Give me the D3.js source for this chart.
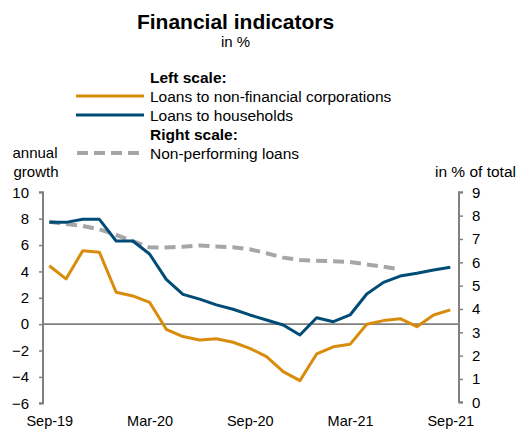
<!DOCTYPE html>
<html><head><meta charset="utf-8">
<script src="https://cdn.jsdelivr.net/npm/d3@7"></script>
<style>body{margin:0;background:#fff}svg{display:block;font-family:"Liberation Sans",Arial,sans-serif}</style>
</head><body><svg id="c" width="518" height="432"></svg>
<script>
const months = ["Sep-19","Oct-19","Nov-19","Dec-19","Jan-20","Feb-20","Mar-20","Apr-20","May-20","Jun-20","Jul-20","Aug-20","Sep-20","Oct-20","Nov-20","Dec-20","Jan-21","Feb-21","Mar-21","Apr-21","May-21","Jun-21","Jul-21","Aug-21","Sep-21"];
const corporations = [4.43,3.43,5.57,5.45,2.42,2.14,1.66,-0.39,-0.94,-1.2,-1.1,-1.37,-1.83,-2.46,-3.6,-4.28,-2.26,-1.72,-1.53,-0.01,0.27,0.42,-0.19,0.7,1.08];
const households = [7.72,7.72,7.95,7.95,6.31,6.31,5.32,3.4,2.26,1.9,1.46,1.13,0.7,0.32,-0.06,-0.82,0.49,0.19,0.7,2.29,3.17,3.65,3.86,4.11,4.31];
const npl = [7.74,7.64,7.56,7.41,7.17,6.91,6.64,6.63,6.67,6.72,6.68,6.64,6.56,6.39,6.2,6.1,6.07,6.05,6.01,5.91,5.81,5.7];
const xTickLabels = ["Sep-19","Mar-20","Sep-20","Mar-21","Sep-21"];
const leftTicks = [-6,-4,-2,0,2,4,6,8,10];
const rightTicks = [0,1,2,3,4,5,6,7,8,9];

const svg = d3.select("#c");
const x = d3.scalePoint().domain(months).range([49.3, 450.3]);
const yL = d3.scaleLinear().domain([-6,10]).range([403.3,192.3]);
const yR = d3.scaleLinear().domain([0,9]).range([402.3,192.3]);
const axisColor = "#808080";
const FF = "Liberation Sans, Arial, sans-serif";

// title
svg.append("text").attr("x",235.5).attr("y",28.5).attr("text-anchor","middle")
  .attr("font-size",21).attr("font-weight","bold").text("Financial indicators");
svg.append("text").attr("x",235.5).attr("y",47).attr("text-anchor","middle")
  .attr("font-size",15).text("in %");

// legend
const lg = svg.append("g").attr("font-size",15.5);
lg.append("text").attr("x",150).attr("y",83).attr("font-weight","bold").text("Left scale:");
lg.append("line").attr("x1",76).attr("x2",144).attr("y1",96).attr("y2",96).attr("stroke","#D98C0B").attr("stroke-width",3);
lg.append("text").attr("x",150).attr("y",101.5).text("Loans to non-financial corporations");
lg.append("line").attr("x1",76).attr("x2",144).attr("y1",115).attr("y2",115).attr("stroke","#004C76").attr("stroke-width",3);
lg.append("text").attr("x",150).attr("y",120.5).text("Loans to households");
lg.append("text").attr("x",150).attr("y",139.5).attr("font-weight","bold").text("Right scale:");
lg.append("line").attr("x1",77).attr("x2",144).attr("y1",153).attr("y2",153).attr("stroke","#A6A6A6").attr("stroke-width",4).attr("stroke-dasharray","11,6");
lg.append("text").attr("x",150).attr("y",158.5).text("Non-performing loans");

// axis titles
svg.append("text").attr("x",12.5).attr("y",158).attr("font-size",15).text("annual");
svg.append("text").attr("x",13.5).attr("y",176.5).attr("font-size",15).text("growth");
svg.append("text").attr("x",516).attr("y",176.5).attr("font-size",15.5).attr("text-anchor","end").text("in % of total");

// left axis
const la = svg.append("g").attr("transform","translate(43,0)")
  .call(d3.axisLeft(yL).tickValues(leftTicks).tickSize(4).tickPadding(10).tickFormat(d3.format("d")));
la.select(".domain").attr("stroke",axisColor).attr("stroke-width",2).attr("d","M-4,192.3H0V403.3H-4");
la.selectAll(".tick line").attr("stroke",axisColor).attr("stroke-width",1.5);
la.selectAll(".tick text").attr("font-size",15).attr("fill","#000").attr("font-family",FF);

// right axis
const ra = svg.append("g").attr("transform","translate(459,0)")
  .call(d3.axisRight(yR).tickValues(rightTicks).tickSize(4).tickPadding(9).tickFormat(d3.format("d")));
ra.select(".domain").attr("stroke",axisColor).attr("stroke-width",2).attr("d","M4,192.3H0V402.3H4");
ra.selectAll(".tick line").attr("stroke",axisColor).attr("stroke-width",1.5);
ra.selectAll(".tick text").attr("font-size",15).attr("fill","#000").attr("font-family",FF);

// x labels
const xa = svg.append("g").attr("transform","translate(0,411)")
  .call(d3.axisBottom(x).tickValues(xTickLabels).tickSize(0).tickPadding(5));
xa.select(".domain").remove();
xa.selectAll(".tick text").attr("font-size",14.5).attr("fill","#000").attr("font-family",FF);

// zero line
svg.append("line").attr("x1",43).attr("x2",459).attr("y1",yL(0)).attr("y2",yL(0)).attr("stroke",axisColor).attr("stroke-width",1.8);

// lines
const lineL = d3.line().x((d,i)=>x(months[i])).y(d=>yL(d));
const lineR = d3.line().x((d,i)=>x(months[i])).y(d=>yR(d));
svg.append("path").attr("d",lineR(npl)).attr("fill","none").attr("stroke","#A6A6A6").attr("stroke-width",4).attr("stroke-dasharray","11,6");
svg.append("path").attr("d",lineL(corporations)).attr("fill","none").attr("stroke","#D98C0B").attr("stroke-width",3).attr("stroke-linejoin","round");
svg.append("path").attr("d",lineL(households)).attr("fill","none").attr("stroke","#004C76").attr("stroke-width",3).attr("stroke-linejoin","round");
</script></body></html>
